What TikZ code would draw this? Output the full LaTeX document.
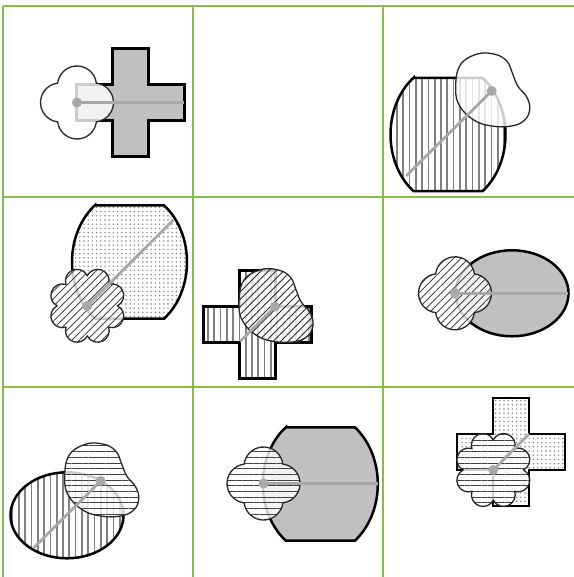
\documentclass[tikz,border=0pt]{standalone}
\usetikzlibrary{patterns.meta}
\definecolor{gridgreen}{RGB}{136,190,70}
\definecolor{shapegray}{RGB}{192,192,192}
\definecolor{linkgray}{RGB}{168,168,168}
\tikzset{
 gridline/.style={draw=gridgreen, line width=1.6pt},
 bigline/.style={draw=black, line width=2.5pt, line join=miter},
 smallline/.style={draw=black!85, line width=1.3pt},
 veil/.style={fill=white, fill opacity=0.8},
 link/.style={draw=linkgray, line width=2.8pt},
 patV/.style={pattern={Lines[angle=90,distance=6.3pt,line width=1.7pt]}, pattern color=black!50},
 patNE/.style={pattern={Lines[angle=45,distance=5.3pt,line width=0.8pt]}, pattern color=black!85},
 patH/.style={pattern={Lines[angle=0,distance=5.7pt,line width=0.8pt]}, pattern color=black!75},
 patDots/.style={pattern={Dots[distance=4.2pt,radius=0.8pt]}, pattern color=black!50},
}
\newcommand\ShCross[2]{\path[shift={#1},#2] (-18,54) -- (18,54) -- (18,18) -- (54,18) -- (54,-18) -- (18,-18) -- (18,-54) -- (-18,-54) -- (-18,-18) -- (-54,-18) -- (-54,18) -- (-18,18) -- cycle;}
\newcommand\ShBarrel[2]{\path[shift={#1},#2] (-34.5,56.7) -- (34.5,56.7) arc[start angle=53.13, end angle=-53.13, x radius=57.5, y radius=70.9] -- (-34.5,-56.7) arc[start angle=233.13, end angle=126.87, x radius=57.5, y radius=70.9] -- cycle;}
\newcommand\ShEllipse[2]{\path[shift={#1},#2] (0,0) ellipse [x radius=56.5, y radius=43];}
\newcommand\ShQuat[2]{\path[shift={#1},#2] (19.36,-19.36) arc[start angle=-83.05, end angle=83.05, radius=19.5] arc[start angle=6.95, end angle=173.05, radius=19.5] arc[start angle=96.95, end angle=263.05, radius=19.5] arc[start angle=186.95, end angle=353.05, radius=19.5] -- cycle;}
\newcommand\ShFlower[2]{\path[shift={#1},#2] (30.2,0)
 arc[start angle=-62.55, end angle=107.55, radius=11.6]
 arc[start angle=-17.55, end angle=152.55, radius=11.6]
 arc[start angle=27.45, end angle=197.55, radius=11.6]
 arc[start angle=72.45, end angle=242.55, radius=11.6]
 arc[start angle=117.45, end angle=287.55, radius=11.6]
 arc[start angle=162.45, end angle=332.55, radius=11.6]
 arc[start angle=207.45, end angle=377.55, radius=11.6]
 arc[start angle=252.45, end angle=422.55, radius=11.6] -- cycle;}
\newcommand\ShBlob[2]{\path[shift={#1},#2] plot[smooth cycle, tension=0.7] coordinates {(-36,2) (-32,25) (-16,36.5) (2,37) (15,30) (21,17) (26,5) (35,-6) (38,-18) (33,-29) (20,-35) (0,-35) (-18,-29) (-32,-15)};}
\begin{document}
\begin{tikzpicture}[x=1pt,y=1pt]
\useasboundingbox (0,0) rectangle (573,577);
% grid
\draw[gridline] (3,571) -- (3,-2);
\draw[gridline] (193,571) -- (193,-2);
\draw[gridline] (383,571) -- (383,-2);
\draw[gridline] (3,571) -- (575,571);
\draw[gridline] (3,380) -- (575,380);
\draw[gridline] (3,190) -- (575,190);
% cell 1
\ShCross{(130.3,474.5)}{fill=shapegray, bigline}
\ShQuat{(77,474.5)}{veil}
\ShQuat{(77,474.5)}{smallline}
\coordinate (c1) at (77,474.5); \coordinate (e1) at (184.3,474.5);
\draw[link] (c1) -- (e1); \fill[linkgray] (c1) circle (5);
% cell 3
\ShBarrel{(448,442.5)}{patV, bigline}
\ShBlob{(491.7,486)}{veil}
\ShBlob{(491.7,486)}{smallline}
\coordinate (c3) at (491.7,486); \coordinate (e3) at (406,401);
\draw[link] (c3) -- (e3); \fill[linkgray] (c3) circle (5);
% cell 4
\ShBarrel{(129.5,315)}{patDots, bigline}
\ShFlower{(87.3,271.2)}{veil}
\ShFlower{(87.3,271.2)}{patNE}
\ShFlower{(87.3,271.2)}{smallline}
\coordinate (c4) at (87.3,271.2); \coordinate (e4) at (173.3,357);
\draw[link] (c4) -- (e4); \fill[linkgray] (c4) circle (5);
% cell 5
\ShCross{(257.3,252.6)}{patV, bigline}
\ShBlob{(275,270.3)}{veil}
\ShBlob{(275,270.3)}{patNE}
\ShBlob{(275,270.3)}{smallline}
\coordinate (c5) at (275,270.3); \coordinate (e5) at (240,235.5);
\draw[link] (c5) -- (e5); \fill[linkgray] (c5) circle (5);
% cell 6
\ShEllipse{(512,283.7)}{fill=shapegray, bigline}
\ShQuat{(455,283.7)}{veil}
\ShQuat{(455,283.7)}{patNE}
\ShQuat{(455,283.7)}{smallline}
\coordinate (c6) at (455,283.7); \coordinate (e6) at (568,283.7);
\draw[link] (c6) -- (e6); \fill[linkgray] (c6) circle (5);
% cell 7
\ShEllipse{(67,61.7)}{patV, bigline}
\ShBlob{(100.7,96)}{veil}
\ShBlob{(100.7,96)}{patH}
\ShBlob{(100.7,96)}{smallline}
\coordinate (c7) at (100.7,96); \coordinate (e7) at (33.3,28.7);
\draw[link] (c7) -- (e7); \fill[linkgray] (c7) circle (5);
% cell 8
\ShBarrel{(320.3,93)}{fill=shapegray, bigline}
\ShQuat{(263.5,93.5)}{veil}
\ShQuat{(263.5,93.5)}{patH}
\ShQuat{(263.5,93.5)}{smallline}
\coordinate (c8) at (263.5,93.5); \coordinate (e8) at (377.5,93.5);
\draw[link] (c8) -- (e8); \fill[linkgray] (c8) circle (5);
% cell 9
\ShCross{(511,125)}{patDots, bigline}
\ShFlower{(493.3,107)}{veil}
\ShFlower{(493.3,107)}{patH}
\ShFlower{(493.3,107)}{smallline}
\coordinate (c9) at (493.3,107); \coordinate (e9) at (529,143);
\draw[link] (c9) -- (e9); \fill[linkgray] (c9) circle (5);
\end{tikzpicture}
\end{document}
